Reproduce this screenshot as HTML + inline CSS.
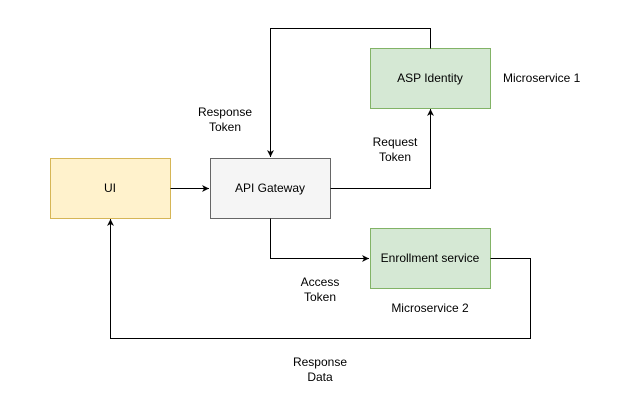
<!DOCTYPE html>
<html><head><style>
body{margin:0;background:#fff;}
svg text{font-family:"Liberation Sans",sans-serif;font-size:12px;fill:#000;}
</style></head><body>
<svg width="639" height="403" viewBox="0 0 639 403" xmlns="http://www.w3.org/2000/svg">
<defs><marker id="a" markerWidth="8" markerHeight="8" refX="7" refY="4" orient="auto" markerUnits="userSpaceOnUse"><path d="M0,0.5 L7,4 L0,7.5 L2,4 Z" fill="#000"/></marker></defs>
<rect x="50.5" y="158.5" width="120" height="60" fill="#fff2cc" stroke="#d6b656"/>
<rect x="210.5" y="158.5" width="120" height="60" fill="#f5f5f5" stroke="#666"/>
<rect x="370.5" y="48.5" width="120" height="60" fill="#d5e8d4" stroke="#82b366"/>
<rect x="370.5" y="228.5" width="120" height="60" fill="#d5e8d4" stroke="#82b366"/>
<g fill="none" stroke="#000">
<path d="M170.5,188.5 H209" marker-end="url(#a)"/>
<path d="M330.5,188.5 H430.5 V109" marker-end="url(#a)"/>
<path d="M430.5,48.5 V28.5 H270.5 V157" marker-end="url(#a)"/>
<path d="M270.5,218.5 V258.5 H369" marker-end="url(#a)"/>
<path d="M490.5,258.5 H530.5 V338.5 H110.5 V219" marker-end="url(#a)"/>
</g>
<text x="110" y="192" text-anchor="middle">UI</text>
<text x="270" y="192" text-anchor="middle" fill="#333">API Gateway</text>
<text x="430" y="82" text-anchor="middle">ASP Identity</text>
<text x="430" y="262" text-anchor="middle">Enrollment service</text>
<text x="503" y="82">Microservice 1</text>
<text x="430" y="312" text-anchor="middle">Microservice 2</text>
<text x="225" y="116" text-anchor="middle">Response</text>
<text x="225" y="131" text-anchor="middle">Token</text>
<text x="395" y="146" text-anchor="middle">Request</text>
<text x="395" y="161" text-anchor="middle">Token</text>
<text x="320" y="286" text-anchor="middle">Access</text>
<text x="320" y="301" text-anchor="middle">Token</text>
<text x="320" y="366" text-anchor="middle">Response</text>
<text x="320" y="381" text-anchor="middle">Data</text>
</svg>
</body></html>
